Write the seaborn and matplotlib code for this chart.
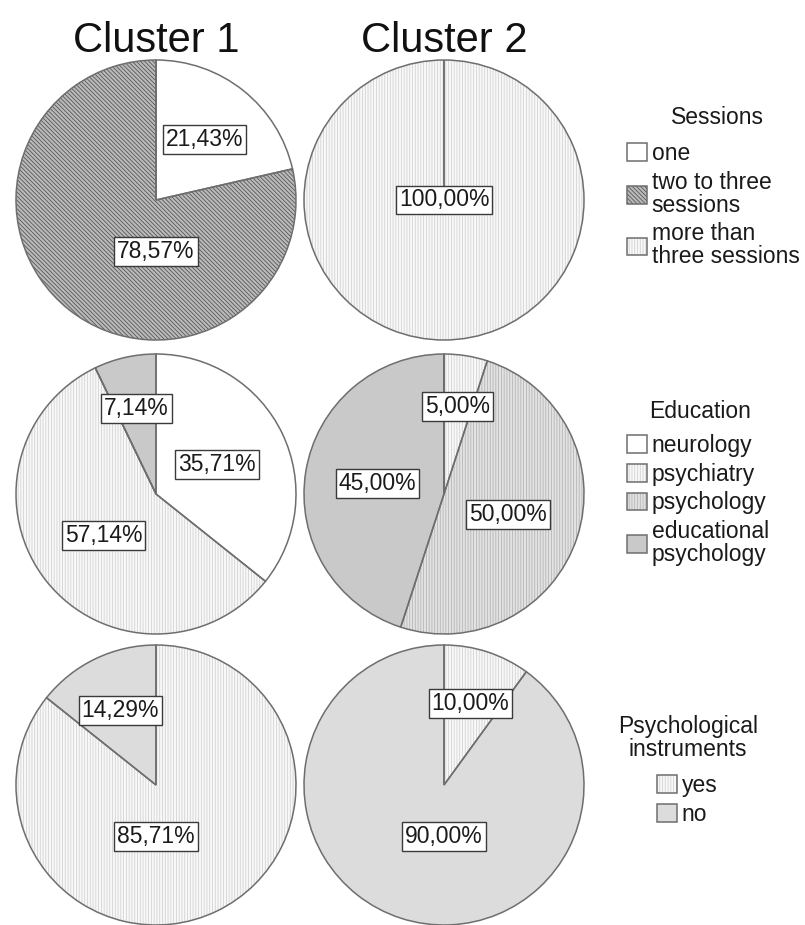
"""Cluster profiles: sessions, education and use of psychological instruments."""

import numpy as np
import matplotlib
matplotlib.use('Agg')
import matplotlib.pyplot as plt
from matplotlib.patches import Patch
from matplotlib.legend_handler import HandlerTuple
import seaborn as sns

sns.set_theme(style="white")
plt.rcParams['font.family'] = ['Liberation Sans', 'DejaVu Sans']
plt.rcParams['hatch.linewidth'] = 0.55

W, H = 805, 925

CLUSTERS = ["Cluster 1", "Cluster 2"]

SESSIONS = ["one", "two to three\nsessions", "more than\nthree sessions"]
SESSIONS_C1 = [21.43, 78.57, 0.0]
SESSIONS_C2 = [0.0, 0.0, 100.0]

EDUCATION = ["neurology", "psychiatry", "psychology", "educational\npsychology"]
EDUCATION_C1 = [35.71, 57.14, 0.0, 7.14]
EDUCATION_C2 = [0.0, 5.00, 50.00, 45.00]

INSTRUMENTS = ["yes", "no"]
INSTRUMENTS_C1 = [85.71, 14.29]
INSTRUMENTS_C2 = [10.00, 90.00]

# fill styles: (face, hatch, hatch colour)
WHITE = ("#ffffff", "", "#ffffff")
DIAG = ("#bababa", "\\" * 8, "#505050")
VLIGHT = ("#f8f8f8", "|" * 6, "#d0d0d0")
VMID = ("#e2e2e2", "|" * 6, "#b2b2b2")
GREY = ("#c9c9c9", "", "#c9c9c9")
LGREY = ("#dcdcdc", "", "#dcdcdc")

ROWS = [
    ("Sessions", SESSIONS, [SESSIONS_C1, SESSIONS_C2], [WHITE, DIAG, VLIGHT]),
    ("Education", EDUCATION, [EDUCATION_C1, EDUCATION_C2], [WHITE, VLIGHT, VMID, GREY]),
    ("Psychological\ninstruments", INSTRUMENTS, [INSTRUMENTS_C1, INSTRUMENTS_C2], [VLIGHT, LGREY]),
]

COL_X = [156, 444]
ROW_Y = [200, 494, 785]
RADIUS = 140
TITLE_XY = [(717, 117), (700, 412), (688, 738)]
LEGEND_XY = [(627, 142), (627, 434), (657, 774)]
EDGE = "#6e6e6e"
FS = 16.5


def pct_label(v):
    return f"{v:.2f}%".replace(".", ",")


def draw_pie(ax, values, styles):
    faces = [s[0] for s in styles]
    wedges, _ = ax.pie(values, colors=faces, startangle=90, counterclock=False,
                       wedgeprops=dict(linewidth=0))
    for w, s in zip(wedges, styles):
        w.set_hatch(s[1])
        w.set_edgecolor(s[2])
    # outlines on top
    ax.pie(values, colors=["none"] * len(values), startangle=90, counterclock=False,
           wedgeprops=dict(linewidth=1.1, edgecolor=EDGE, facecolor="none"))

    total = sum(values)
    cum = 0.0
    for v in values:
        if v <= 0:
            continue
        pct = 100 * v / total
        mid = np.deg2rad(90 - 360 * (cum + v / 2) / total)
        cum += v
        if pct >= 99.9:
            x, y = 0.0, 0.0
        elif pct > 75:
            x, y = 0.0, -0.37
        else:
            r = max(0.48, 0.66 - 0.005 * pct)
            x, y = r * np.cos(mid), r * np.sin(mid)
        ax.text(x, y, pct_label(v), ha="center", va="center", fontsize=FS,
                color="#1a1a1a",
                bbox=dict(boxstyle="square,pad=0.13", fc="white", ec="#3a3a3a", lw=1))
    ax.set_xlim(-1.02, 1.02)
    ax.set_ylim(-1.02, 1.02)
    ax.set_aspect("equal")
    ax.axis("off")


fig = plt.figure(figsize=(W / 100, H / 100), dpi=100)

for ri, (title, cats, series, styles) in enumerate(ROWS):
    for ci, values in enumerate(series):
        half = RADIUS * 1.02
        ax = fig.add_axes([(COL_X[ci] - half) / W, 1 - (ROW_Y[ri] + half) / H,
                           2 * half / W, 2 * half / H])
        draw_pie(ax, values, styles)

    handles = [(Patch(facecolor=s[0], hatch=s[1], edgecolor=s[2], linewidth=0),
                Patch(facecolor="none", edgecolor=EDGE, linewidth=1.1)) for s in styles]
    lx, ly = LEGEND_XY[ri]
    leg = fig.legend(handles, cats, loc="upper left",
                     bbox_to_anchor=(lx / W, 1 - ly / H), frameon=False,
                     fontsize=FS, borderpad=0, borderaxespad=0,
                     handlelength=0.87, handleheight=0.8, handletextpad=0.2,
                     labelspacing=0.25,
                     handler_map={tuple: HandlerTuple(ndivide=1)})
    for t in leg.get_texts():
        t.set_linespacing(1.0)
        t.set_color("#1a1a1a")

    tx, ty = TITLE_XY[ri]
    fig.text(tx / W, 1 - ty / H, title, ha="center", va="center", fontsize=FS,
             color="#1a1a1a", linespacing=0.95, multialignment="center")

for ci, name in enumerate(CLUSTERS):
    fig.text(COL_X[ci] / W, 1 - 52 / H, name, ha="center", va="baseline",
             fontsize=30, color="#111111")

fig.savefig("out.png", dpi=100)
